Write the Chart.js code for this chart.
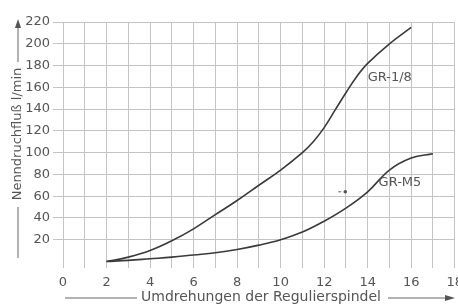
<!DOCTYPE html>
<html lang="de">
<head>
<meta charset="UTF-8">
<title>Nenndurchfluss</title>
<style>
  html, body { margin: 0; padding: 0; background: #fff; overflow: hidden; }
  #wrap { width: 470px; height: 305px; }
</style>
</head>
<body>
<div id="wrap"><canvas id="chart" width="470" height="305"></canvas></div>
<script src="https://cdn.jsdelivr.net/npm/chart.js"></script>
<script>
  // Umdrehungen (x) und Durchfluss l/min (y)
  const turns18 = [2, 3, 4, 5, 6, 7, 8, 9, 10, 11, 11.5, 12, 12.5, 13, 13.5, 14, 15, 16];
  const flow18  = [0, 4, 10, 19, 30, 43, 56, 70, 84, 100, 110, 123, 139, 155, 170, 182, 200, 215];
  const turnsM5 = [2, 3, 4, 5, 6, 7, 8, 9, 10, 11, 12, 13, 14, 15, 16, 17];
  const flowM5  = [0, 1, 2.5, 4, 6, 8, 11, 15, 20, 27, 37, 49, 64, 84, 95, 99];
  const yTicks = [0, 20, 40, 60, 80, 100, 120, 140, 160, 180, 200, 220];
  const curveLabels = [
    { text: 'GR-1/8', x: 14.0, y: 169 },
    { text: 'GR-M5', x: 14.5, y: 72 }
  ];
  const strayMark = { x: 12.97, y: 64 };

  const FONT = '"DejaVu Sans", sans-serif';
  const TXT = '#555';
  const GRID = '#c4c4c4';

  const toPts = (xs, ys) => xs.map((x, i) => ({ x: x, y: ys[i] }));

  // Achsentitel mit Pfeilen und Kurvenbeschriftungen
  const decor = {
    id: 'decor',
    afterDraw(chart) {
      const c = chart.ctx;
      const xs = chart.scales.x, ys = chart.scales.y;
      c.save();
      c.fillStyle = TXT;
      c.strokeStyle = '#666';
      c.lineWidth = 1;
      c.font = '13px ' + FONT;
      c.textBaseline = 'middle';

      // Kurvennamen
      c.textAlign = 'left';
      curveLabels.forEach(l => {
        c.fillText(l.text, xs.getPixelForValue(l.x), ys.getPixelForValue(l.y));
      });

      // kleiner Fleck im Original
      const mx = xs.getPixelForValue(strayMark.x), my = ys.getPixelForValue(strayMark.y);
      c.fillStyle = '#555';
      c.beginPath(); c.arc(mx, my, 1.8, 0, Math.PI * 2); c.fill();
      c.beginPath(); c.moveTo(mx - 7, my); c.lineTo(mx - 4, my); c.stroke();

      // x-Titel
      c.fillStyle = TXT;
      c.font = '14px ' + FONT;
      c.textAlign = 'center';
      const tx = 261, ty = 297;
      c.fillText('Umdrehungen der Regulierspindel', tx, ty);
      c.beginPath();
      c.moveTo(65, ty + 1); c.lineTo(137, ty + 1);
      c.moveTo(388, ty + 1); c.lineTo(450, ty + 1);
      c.stroke();
      c.fillStyle = '#555';
      c.beginPath();
      c.moveTo(455, ty + 1); c.lineTo(445, ty - 2); c.lineTo(445, ty + 4); c.closePath();
      c.fill();

      // y-Titel
      const yx = 18, yc = 134;
      c.save();
      c.translate(yx, yc);
      c.rotate(-Math.PI / 2);
      c.fillStyle = TXT;
      c.font = '13px ' + FONT;
      c.fillText('Nenndruchfluß l/min', 0, 0);
      c.restore();
      c.beginPath();
      c.moveTo(yx, 62); c.lineTo(yx, 26);
      c.moveTo(yx, 207); c.lineTo(yx, 258);
      c.stroke();
      c.beginPath();
      c.moveTo(yx, 19); c.lineTo(yx - 3, 28); c.lineTo(yx + 3, 28); c.closePath();
      c.fill();
      c.restore();
    }
  };

  new Chart(document.getElementById('chart'), {
    type: 'line',
    data: {
      datasets: [
        { label: 'GR-1/8', data: toPts(turns18, flow18) },
        { label: 'GR-M5', data: toPts(turnsM5, flowM5) }
      ]
    },
    options: {
      responsive: false,
      animation: false,
      layout: { padding: { top: 22, right: 13, left: 0, bottom: 0 } },
      elements: {
        line: { borderColor: '#3a3a3a', borderWidth: 1.6, tension: 0.4, fill: false },
        point: { radius: 0 }
      },
      plugins: { legend: { display: false }, tooltip: { enabled: false } },
      scales: {
        x: {
          type: 'linear', min: 0, max: 18,
          border: { display: false },
          grid: { color: GRID, drawTicks: false },
          ticks: {
            stepSize: 1, autoSkip: false, maxRotation: 0, padding: 7,
            color: TXT, font: { family: FONT, size: 13 },
            callback: v => (v % 2 === 0 ? String(v) : '')
          },
          afterFit: s => { s.height = 37; }
        },
        y: {
          min: -6, max: 220,
          border: { display: false },
          grid: {
            color: ctx => (ctx.tick && ctx.tick.value === 0 ? 'rgba(0,0,0,0)' : GRID),
            tickLength: 10
          },
          ticks: {
            padding: 3, color: TXT, font: { family: FONT, size: 13 },
            callback: v => (v === 0 ? '' : String(v))
          },
          afterBuildTicks: s => { s.ticks = yTicks.map(v => ({ value: v })); },
          afterFit: s => { s.width = 63; }
        }
      }
    },
    plugins: [decor]
  });
</script>
</body>
</html>
